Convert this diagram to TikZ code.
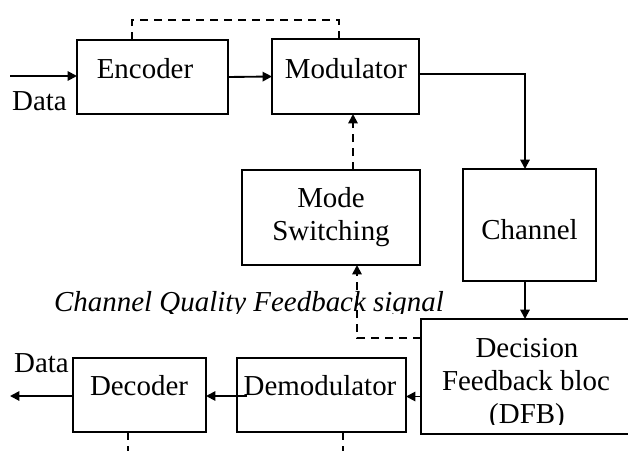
\documentclass[tikz,border=0pt]{standalone}
\usepackage{fontspec}
\setmainfont{Liberation Serif}
\usetikzlibrary{arrows.meta,calc}
\begin{document}
\begin{tikzpicture}[x=0.75pt,y=-0.75pt,
  blk/.style={draw,line width=1.5pt,inner sep=0pt,outer sep=0pt},
  lbl/.style={inner sep=0pt,anchor=base,font=\fontsize{21.7pt}{24.75pt}\selectfont},
  con/.style={line width=1.4pt},
  arr/.style={con,-{Triangle[length=7pt,width=7pt]}},
  dsh/.style={dash pattern=on 6pt off 4.5pt}]
\useasboundingbox (0,0) rectangle (628,450);
\clip (0,0) rectangle (628,450);
\fill[white] (0,0) rectangle (628,450);
% blocks
\node[blk,minimum width=113.25pt,minimum height=55.5pt] (enc) at (152.5,77) {};
\node[blk,minimum width=110.25pt,minimum height=56.25pt] (mod) at (345.5,76.5) {};
\node[blk,minimum width=133.5pt,minimum height=71.25pt] (ms) at (331,217.5) {};
\node[blk,minimum width=99.75pt,minimum height=84pt] (ch) at (529.5,225) {};
\node[blk,minimum width=164.25pt,minimum height=86.25pt] (dfb) at (530.5,376.5) {};
\node[blk,minimum width=99.75pt,minimum height=55.5pt] (dec) at (139.5,395) {};
\node[blk,minimum width=126.75pt,minimum height=55.5pt] (dem) at (321.5,395) {};
% labels
\node[lbl] (tenc) at (145,78) {Encoder};
\node[lbl] (tmod) at (346,78) {Modulator};
\node[lbl] (tms1) at (331,207) {Mode};
\node[lbl] (tms2) at (331,240) {Switching};
\node[lbl] (tch) at (529.5,239) {Channel};
\node[lbl] (tdfb1) at (527,357) {Decision};
\node[lbl] (tdfb2) at (526,390) {Feedback bloc};
\begin{scope}
\clip (421,300) rectangle (628,424);
\node[lbl] (tdfb3) at (527,423) {(DFB)};
\end{scope}
\node[lbl] (tdec) at (139,395) {Decoder};
\node[lbl] (tdem) at (320,395) {Demodulator};
\node[lbl] (din) at (39.5,110) {Data};
\node[lbl] (dout) at (41.5,372) {Data};
% connectors
\coordinate (inp) at (10,76);
\draw[arr] (inp) -- (inp -| enc.west);
\draw[arr] (enc.east) -- (mod.west);
\coordinate (e1) at ($(enc.north)+(-20.5,0)$);
\coordinate (m1) at ($(mod.north)+(-6.5,0)$);
\draw[con,dsh] (e1) -- ++(0,-20) -| (m1);
\draw[arr] ($(mod.east)+(0,-2.5)$) -| ($(ch.north)+(-4.5,0)$);
\coordinate (msu) at ($(ms.north)+(22,0)$);
\draw[arr,dsh] (msu) -- (msu |- mod.south);
\coordinate (chs) at ($(ch.south)+(-4.5,0)$);
\draw[arr] (chs) -- (chs |- dfb.north);
\coordinate (fb) at (421,338);
\draw[arr,dsh] (fb) -| ($(ms.south)+(26,0)$);
\draw[arr] ($(dem.east -| dfb.west)+(0,1.5)$) -- ($(dem.east)+(0,1.5)$);
\draw[arr] ($(dem.west)+(10,1)$) -- ($(dec.east)+(0,1)$);
\coordinate (outp) at (10,396);
\draw[arr] ($(dec.west)+(0,1)$) -- (outp);
\coordinate (dd) at ($(dec.south)+(-11.5,0)$);
\draw[con,dsh] (dd) -- ++(0,25);
\coordinate (md) at ($(dem.south)+(21.5,0)$);
\draw[con,dsh] (md) -- ++(0,25);
% italic caption
\begin{scope}
\clip (0,280) rectangle (628,313.5);
\node[lbl,font=\fontsize{21.7pt}{24.75pt}\selectfont\itshape] (cqf) at (249,311) {Channel Quality Feedback signal};
\end{scope}
\end{tikzpicture}
\end{document}
